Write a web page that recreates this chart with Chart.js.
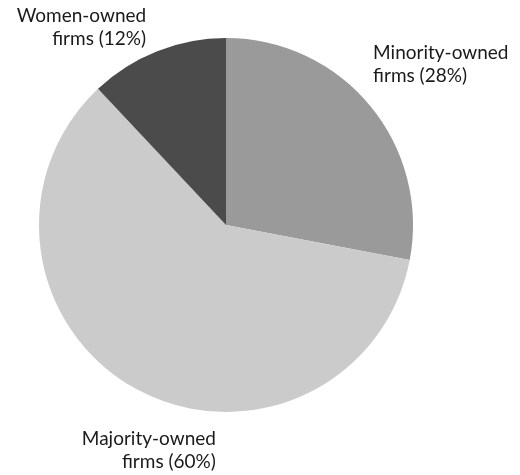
<!DOCTYPE html>
<html>
<head>
<meta charset="utf-8">
<script src="https://cdn.jsdelivr.net/npm/chart.js@4.4.1/dist/chart.umd.min.js"></script>
<style>
  html, body { margin: 0; padding: 0; background: #fff; }
  #wrap { width: 520px; height: 475px; position: relative; }
</style>
</head>
<body>
<div id="wrap"><canvas id="pie"></canvas></div>
<script>
// firm ownership shares, clockwise from 12 o'clock
const categories = ['Minority-owned', 'Majority-owned', 'Women-owned'];
const shares = [28, 60, 12];
const sliceColors = ['#9a9a9a', '#cbcbcb', '#4b4b4b'];

// label placement relative to each slice's outer mid-point
const labelOffsets = [
  { dx: 3,   dy: -47, align: 'left'  },
  { dx: 80,  dy: 56,  align: 'right' },
  { dx: -11, dy: -29, align: 'right' }
];
const LINE_H = 23;

const outsideLabels = {
  id: 'outsideLabels',
  afterDatasetsDraw(chart) {
    const ctx = chart.ctx;
    const arcs = chart.getDatasetMeta(0).data;
    ctx.save();
    ctx.font = '19px Lato, "Open Sans", sans-serif';
    ctx.fillStyle = '#1a1a1a';
    ctx.textBaseline = 'alphabetic';
    arcs.forEach((arc, i) => {
      const { x, y, startAngle, endAngle, outerRadius } = arc.getProps(['x', 'y', 'startAngle', 'endAngle', 'outerRadius'], true);
      const mid = (startAngle + endAngle) / 2;
      const o = labelOffsets[i];
      const px = x + Math.cos(mid) * outerRadius + o.dx;
      const py = y + Math.sin(mid) * outerRadius + o.dy;
      ctx.textAlign = o.align;
      ctx.fillText(categories[i], px, py);
      ctx.fillText('firms (' + shares[i] + '%)', px, py + LINE_H);
    });
    ctx.restore();
  }
};

new Chart(document.getElementById('pie'), {
  type: 'pie',
  data: {
    labels: categories,
    datasets: [{ data: shares, backgroundColor: sliceColors, borderWidth: 0 }]
  },
  options: {
    responsive: true,
    maintainAspectRatio: false,
    animation: false,
    layout: { padding: { left: 39, right: 107, top: 38, bottom: 63 } },
    plugins: {
      legend: { display: false },
      tooltip: { enabled: false }
    }
  },
  plugins: [outsideLabels]
});
</script>
</body>
</html>
